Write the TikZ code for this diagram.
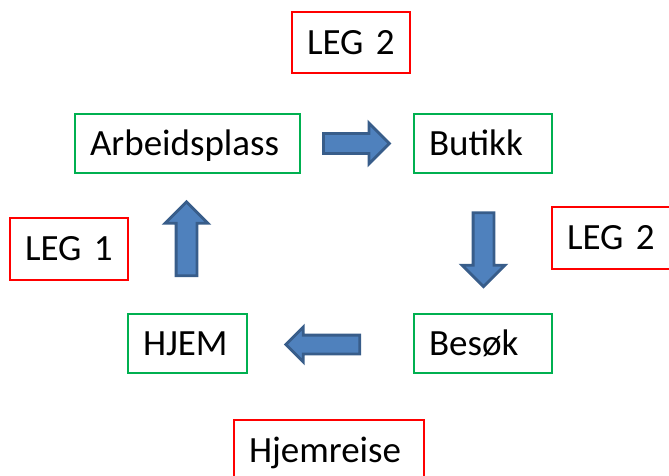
\documentclass[tikz,border=0pt]{standalone}
\usepackage{fontspec}
\setmainfont{Carlito}
\usetikzlibrary{shapes.arrows}
\definecolor{boxgreen}{RGB}{0,176,80}
\definecolor{boxred}{RGB}{255,0,0}
\definecolor{arrowfill}{RGB}{79,129,189}
\definecolor{arrowline}{RGB}{56,93,138}
\newcommand{\labelfont}{\fontsize{37}{40}\selectfont\spaceskip=0.17em\relax}
\begin{document}
\begin{tikzpicture}[x=1pt,y=-1pt,
  label box/.style args={#1/#2}{draw, line width=1.5pt, rectangle,
    minimum width=#1pt, minimum height=#2pt, inner xsep=15pt, inner ysep=0pt,
    text width=#1pt-30pt, align=left, text height=23.8pt, text depth=0pt,
    font=\labelfont},
  place/.style={label box=#1, boxgreen},
  leg/.style={label box=#1, boxred},
  block arrow/.style args={#1/#2/#3/#4}{single arrow, draw=arrowline, fill=arrowfill,
    line width=2.8pt, minimum height=#1pt, inner sep=#2pt,
    single arrow head extend=#3pt, single arrow head indent=0pt,
    single arrow tip angle=90, shape border rotate=#4}]
  \useasboundingbox (0,0) rectangle (669,476);

  % places on the round trip
  \node[place=225/59, text=black] (arb) at (187.5,143.5) {Arbeidsplass};
  \node[place=138/59, text=black] (but) at (483,143.5) {Butikk};
  \node[place=138/59, text=black] (besok) at (483,343.5) {Besøk};
  \node[place=119/59, text=black] (hjem) at (187.5,343.5) {HJEM};

  % leg labels
  \node[leg=118/61, text=black] (legtop) at (351,42.5) {LEG 2};
  \node[leg=118/62, text=black] (legone) at (69,249) {LEG 1};
  \node[leg=120/62, text=black] (legright) at (612,238) {LEG 2};
  \node[leg=190/61, text=black] (reise) at (329,450.5) {Hjemreise};

  % block arrows between the places
  \node[block arrow=66/8.5/10.5/0]   (a1) at (351.5,143.5) {};
  \node[block arrow=74/9/11/270]     (a2) at (483.5,244.5) {};
  \node[block arrow=74/8/8/180]      (a3) at (327.5,344.5) {};
  \node[block arrow=74/9/11/90]      (a4) at (186.5,244) {};
\end{tikzpicture}
\end{document}
